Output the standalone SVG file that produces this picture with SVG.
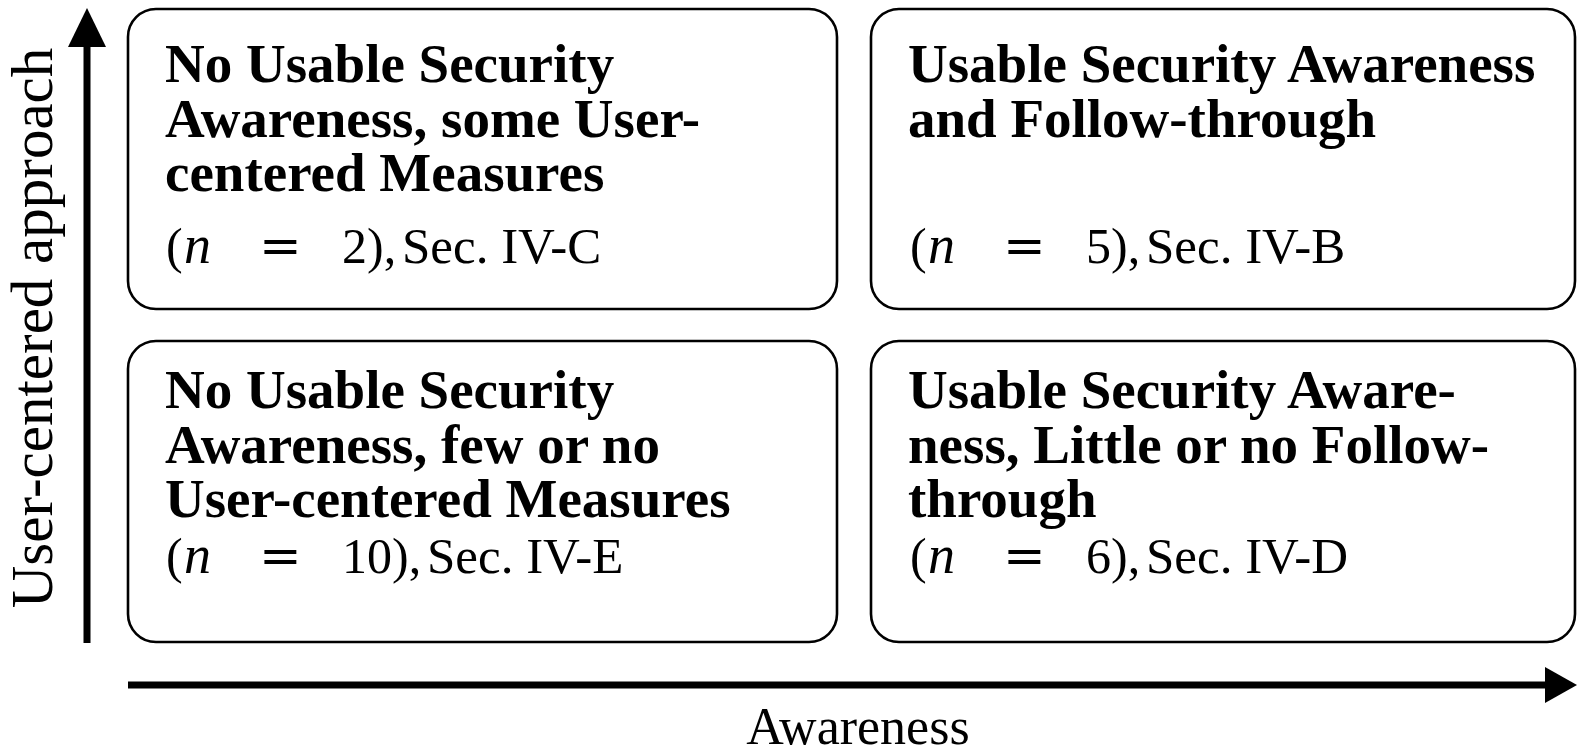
<svg xmlns="http://www.w3.org/2000/svg" width="1577" height="751" viewBox="0 0 1577 751">
<style>
.box{fill:#fff;stroke:#000;stroke-width:2.6}
.t{font-family:"Liberation Serif","Times New Roman",serif;font-size:55px;fill:#000}
.b{font-weight:bold}
.m{font-family:"Liberation Serif","Times New Roman",serif;font-size:50px;fill:#000}
.i{font-style:italic;font-size:54px}
.eq{font-family:"DejaVu Serif",serif;font-size:51px}
.s{font-size:51px}
.ax{font-family:"Liberation Serif","Times New Roman",serif;fill:#000}
</style>
<rect width="1577" height="751" fill="#fff"/>
<g id="connectors">
<line x1="87" y1="643" x2="87" y2="44" stroke="#000" stroke-width="7"/>
<polygon points="87,8 68,47 106,47" fill="#000"/>
<line x1="128" y1="685" x2="1548" y2="685" stroke="#000" stroke-width="7"/>
<polygon points="1577,685 1545,667 1545,703" fill="#000"/>
</g>
<g id="axis-y"><text class="ax" font-size="59" transform="translate(52,328) rotate(-90)" text-anchor="middle">User-centered approach</text></g>
<g id="axis-x"><text class="ax" font-size="52" x="858" y="744" text-anchor="middle">Awareness</text></g>
<g id="box-tl">
<rect class="box" x="128" y="9" width="709" height="300" rx="28"/>
<text class="t b" x="165" y="82">No Usable Security</text>
<text class="t b" x="165" y="137">Awareness, some User-</text>
<text class="t b" x="165" y="191">centered Measures</text>
<text class="m" y="263"><tspan x="166">(</tspan><tspan class="i" x="184">n</tspan><tspan class="eq" x="259">=</tspan><tspan x="342">2),</tspan><tspan class="s" x="402">Sec. IV-C</tspan></text>
</g>
<g id="box-tr">
<rect class="box" x="871" y="9" width="704" height="300" rx="28"/>
<text class="t b" x="908" y="82">Usable Security Awareness</text>
<text class="t b" x="908" y="137">and Follow-through</text>
<text class="m" y="263"><tspan x="910">(</tspan><tspan class="i" x="928">n</tspan><tspan class="eq" x="1003">=</tspan><tspan x="1086">5),</tspan><tspan class="s" x="1146">Sec. IV-B</tspan></text>
</g>
<g id="box-bl">
<rect class="box" x="128" y="341" width="709" height="301" rx="28"/>
<text class="t b" x="165" y="408">No Usable Security</text>
<text class="t b" x="165" y="463">Awareness, few or no</text>
<text class="t b" x="165" y="517">User-centered Measures</text>
<text class="m" y="573"><tspan x="166">(</tspan><tspan class="i" x="184">n</tspan><tspan class="eq" x="259">=</tspan><tspan x="342">10),</tspan><tspan class="s" x="427">Sec. IV-E</tspan></text>
</g>
<g id="box-br">
<rect class="box" x="871" y="341" width="704" height="301" rx="28"/>
<text class="t b" x="908" y="408">Usable Security Aware-</text>
<text class="t b" x="908" y="463">ness, Little or no Follow-</text>
<text class="t b" x="908" y="517">through</text>
<text class="m" y="573"><tspan x="910">(</tspan><tspan class="i" x="928">n</tspan><tspan class="eq" x="1003">=</tspan><tspan x="1086">6),</tspan><tspan class="s" x="1146">Sec. IV-D</tspan></text>
</g>
</svg>
